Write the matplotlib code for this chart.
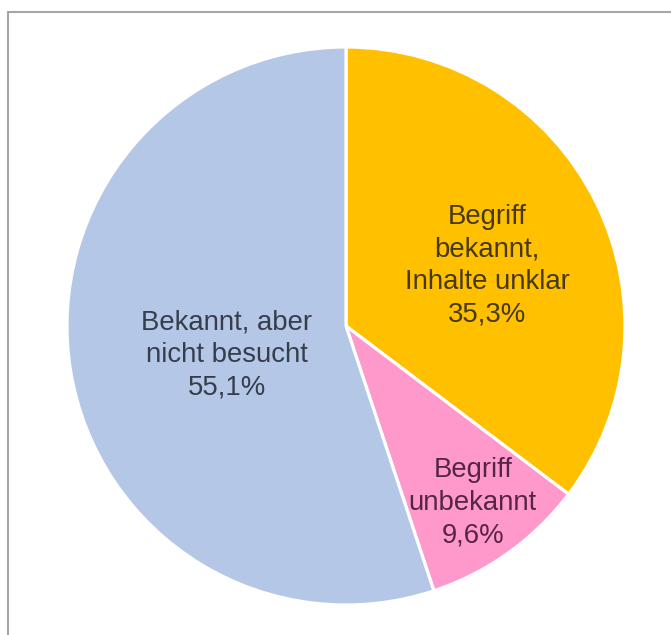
import numpy as np
import matplotlib.pyplot as plt
from matplotlib.patches import Rectangle

categories = ["Begriff\nbekannt,\nInhalte unklar", "Begriff\nunbekannt", "Bekannt, aber\nnicht besucht"]
values = [35.3, 9.6, 55.1]
value_labels = ["35,3%", "9,6%", "55,1%"]
colors = ["#FFC000", "#FF99CC", "#B4C7E7"]
text_colors = ["#463810", "#552543", "#363d4b"]
label_dist = [0.55, 0.78, 0.44]
label_ang_shift = [-3.4, 0.0, 4.5]

W, H = 671, 635
fig = plt.figure(figsize=(W / 100, H / 100), dpi=100)
ax = fig.add_axes([0, 0, 1, 1])

cx, cy, r = 346, H - 326, 279
wedges, _ = ax.pie(values, colors=colors, startangle=90, counterclock=False,
                   center=(cx, cy), radius=r, frame=True,
                   wedgeprops=dict(edgecolor="white", linewidth=2.3))
ax.set_xlim(0, W)
ax.set_ylim(0, H)
ax.set_aspect("equal")
ax.axis("off")

for w, cat, vl, tc, d, s in zip(wedges, categories, value_labels, text_colors,
                                label_dist, label_ang_shift):
    ang = np.deg2rad((w.theta1 + w.theta2) / 2 + s)
    x = cx + d * r * np.cos(ang)
    y = cy + d * r * np.sin(ang)
    ax.text(x, y, cat + "\n" + vl, ha="center", va="center", fontsize=19.8,
            family="Liberation Sans", color=tc, linespacing=1.32)

ax.add_patch(Rectangle((8, -10), W, H - 12 + 10, fill=False,
                       edgecolor="#A6A6A6", linewidth=1.5, clip_on=False))

fig.savefig("out.png", dpi=100)
